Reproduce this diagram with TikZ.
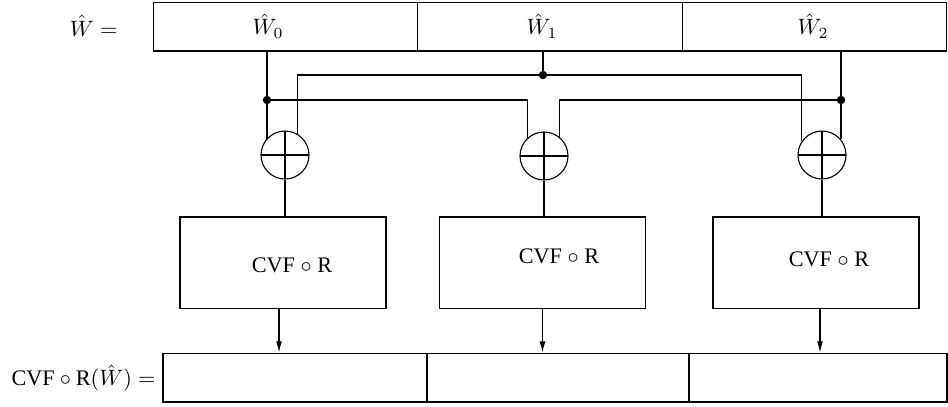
\documentclass[tikz,border=0pt]{standalone}
\usepackage{amsmath}
\usepackage[no-math]{fontspec}
\setmainfont{Liberation Serif}
\usetikzlibrary{arrows.meta, positioning}

\tikzset{
	cell/.style={draw, minimum height=22pt, inner sep=0pt},
	xorgate/.style={circle, draw, minimum size=21.6pt, inner sep=0pt,
		path picture={\draw (path picture bounding box.north) -- (path picture bounding box.south)
			(path picture bounding box.west) -- (path picture bounding box.east);}},
	fnbox/.style={draw, minimum width=92.7pt, minimum height=41pt, inner sep=0pt},
	junction/.style={circle, fill, minimum size=3.8pt, inner sep=0pt},
	wirearrow/.style={-{Latex[length=5pt, width=2.6pt]}}
}

\begin{document}
\begin{tikzpicture}[x=0.45pt, y=-0.45pt, line width=0.5pt]
	% Paths, nodes and wires:
	\useasboundingbox (0,0) rectangle (948,406);
	\node[cell, minimum width=119pt](W0) at (285.7, 26.5){};
	\node[cell, minimum width=119pt](W1) at (550.1, 26.5){};
	\node[cell, minimum width=119pt](W2) at (814.6, 26.5){};
	\node(L0) at (268, 26){$\hat{W}_0$};
	\node(L1) at (542, 26){$\hat{W}_1$};
	\node(L2) at (813, 26){$\hat{W}_2$};
	\node[anchor=east, inner sep=0pt](Win) at (118, 26){$\hat{W}=$};
	\node[xorgate](X0) at (285, 155){};
	\node[xorgate](X1) at (544, 156){};
	\node[xorgate](X2) at (822, 155){};
	\node[fnbox](F0) at (283, 262.5){};
	\node[fnbox](F1) at (542.5, 262.5){};
	\node[fnbox](F2) at (816, 262.5){};
	\node(T0) at (292, 265){CVF $\circ$ R};
	\node(T1) at (559, 256){CVF $\circ$ R};
	\node(T2) at (829, 259){CVF $\circ$ R};
	\node[cell, minimum width=118.8pt](O0) at (295, 377.5){};
	\node[cell, minimum width=117.9pt](O1) at (558, 377.5){};
	\node[cell, minimum width=116.1pt](O2) at (818, 377.5){};
	\node[anchor=east, inner sep=0pt](Wout) at (156, 378){CVF${}\circ{}$R$(\hat{W}) =$};
	\coordinate(J0) at (267, 100);
	\coordinate(J1) at (543, 75);
	\coordinate(J2) at (841, 100);
	\draw (J0 |- W0.south) -- (J0) -- (J0 |- X0.139);
	\draw (J0) -| (X1.132);
	\draw (J1 |- W1.south) -- (J1);
	\draw (X0.60) |- (J1) -| (X2.146);
	\draw (J2 |- W2.south) -- (J2) -- (J2 |- X2.41);
	\draw (X1.51) |- (J2);
	\node[junction] at (J0){};
	\node[junction] at (J1){};
	\node[junction] at (J2){};
	\draw (X0.south) -- (X0.south |- F0.north);
	\draw (X1.south) -- (X1.south |- F1.north);
	\draw (X2.south) -- (X2.south |- F2.north);
	\draw[wirearrow] ([xshift=-1.8pt]F0.south) -- ([xshift=-1.8pt]F0.south |- O0.north);
	\draw[wirearrow] (F1.south) -- (F1.south |- O1.north);
	\draw[wirearrow] ([xshift=1.8pt]F2.south) -- ([xshift=1.8pt]F2.south |- O2.north);
\end{tikzpicture}
\end{document}
